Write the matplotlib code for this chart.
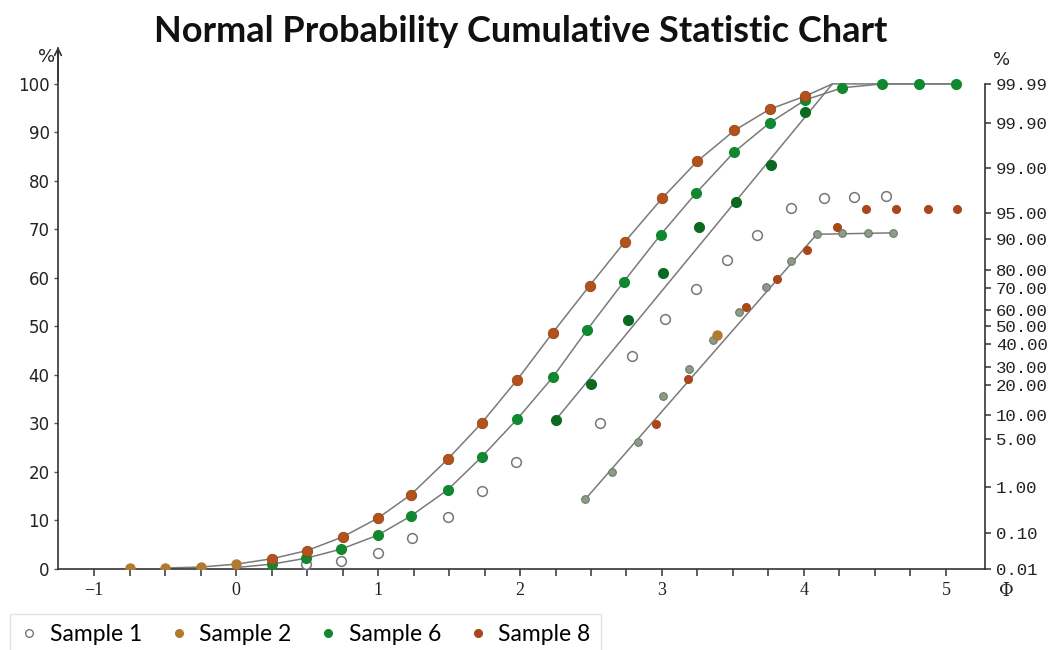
import matplotlib
matplotlib.use("Agg")
from matplotlib import pyplot as plt

# ---- data ----
# Sample 1 (open circles)
s1_x = [0.49, 0.74, 1.0, 1.24, 1.49, 1.73, 1.97, 2.56, 2.79, 3.02, 3.24, 3.46, 3.67, 3.91, 4.14, 4.35, 4.58]
s1_y = [1.0, 1.6, 3.4, 6.4, 10.8, 16.1, 22.1, 30.2, 43.9, 51.5, 57.8, 63.8, 68.9, 74.4, 76.4, 76.6, 76.8]

# Sample 2 (tan)
s2_x = [-0.75, -0.5, -0.25, 0.0, 3.385]
s2_y = [0.2, 0.3, 0.4, 1.0, 48.3]

# Sample 6 (green) - upper curve and the steeper set
s6_x = [0.25, 0.49, 0.74, 1.0, 1.23, 1.49, 1.73, 1.98, 2.23, 2.47, 2.73, 2.99, 3.24, 3.51, 3.76, 4.01, 4.27, 4.55, 4.81, 5.07]
s6_y = [1.0, 2.2, 4.1, 7.0, 10.9, 16.3, 23.1, 30.9, 39.5, 49.2, 59.2, 68.9, 77.5, 86.0, 92.0, 96.7, 99.2, 100, 100, 100]
s6b_x = [2.25, 2.5, 2.76, 3.01, 3.26, 3.52, 3.77, 4.01]
s6b_y = [30.7, 38.1, 51.3, 61.1, 70.4, 75.7, 83.3, 94.2]

# Sample 8 (red-brown) - top curve and the scattered lower points
s8_x = [0.25, 0.5, 0.75, 1.0, 1.23, 1.49, 1.73, 1.98, 2.23, 2.49, 2.74, 3.0, 3.25, 3.51, 3.76, 4.01]
s8_y = [2.1, 3.8, 6.6, 10.5, 15.3, 22.6, 30.1, 39.0, 48.7, 58.4, 67.5, 76.4, 84.1, 90.4, 94.8, 97.5]
s8b_x = [2.96, 3.18, 3.59, 3.81, 4.02, 4.23, 4.44, 4.65, 4.87, 5.08]
s8b_y = [29.8, 39.2, 54.0, 59.7, 65.8, 70.4, 74.3, 74.3, 74.3, 74.3]

# grey points on the lowest straight line
grey_x = [2.46, 2.65, 2.83, 3.01, 3.19, 3.36, 3.54, 3.73, 3.91, 4.09, 4.27, 4.45, 4.63]
grey_y = [14.4, 20.0, 26.2, 35.7, 41.3, 47.3, 52.9, 58.1, 63.5, 69.0, 69.3, 69.3, 69.3]

# fitted lines
top_line_x = [-0.5, -0.25, 0.0] + s8_x + [4.2]
top_line_y = [0.2, 0.4, 1.0] + s8_y + [100]
mid_line_x = [0.0] + s6_x
mid_line_y = [0.3] + s6_y
steep_line_x = [2.25, 4.2, 5.07]
steep_line_y = [30.7, 100, 100]
low_line_x = [2.46, 4.09, 4.63]
low_line_y = [14.4, 69.0, 69.3]

# right axis: probability scale
prob_pos = [100, 92.0, 82.7, 73.4, 68.0, 61.7, 58.0, 53.4, 50.1, 46.4, 41.6, 37.9, 31.8, 26.8, 16.9, 7.4, 0]
prob_labels = ["99.99", "99.90", "99.00", "95.00", "90.00", "80.00", "70.00", "60.00", "50.00",
               "40.00", "30.00", "20.00", "10.00", "5.00", "1.00", "0.10", "0.01"]

x_major = [-1, 0, 1, 2, 3, 4, 5]
x_minor = [i * 0.25 for i in range(-4, 21)]
y_ticks = [0, 10, 20, 30, 40, 50, 60, 70, 80, 90, 100]

c_s8 = "#b3521c"
c_s2 = "#b07a30"
c_s6 = "#11882f"
c_s6b = "#0b6a22"
c_grey = "#8e9b88"
c_line = "#7a7a7a"

fig = plt.figure(figsize=(10.62, 6.5), dpi=100)
ax = fig.add_axes([0.0546, 0.1246, 0.8729, 0.8023])

for lx, ly in [(top_line_x, top_line_y), (mid_line_x, mid_line_y),
               (steep_line_x, steep_line_y), (low_line_x, low_line_y)]:
    ax.plot(lx, ly, color=c_line, lw=1.1, zorder=2)

ax.plot(s1_x, s1_y, "o", ms=7, mfc="white", mec="#777777", mew=1.1, zorder=3)
ax.plot(grey_x, grey_y, "o", ms=5.5, mfc=c_grey, mec="#6d7a69", mew=0.8, zorder=3)
ax.plot(s8b_x, s8b_y, "o", ms=5.5, mfc="#a9461a", mec="#a9461a", zorder=3)
ax.plot(s6b_x, s6b_y, "o", ms=7, mfc=c_s6b, mec=c_s6b, zorder=3)
ax.plot(s6_x, s6_y, "o", ms=7, mfc=c_s6, mec=c_s6, zorder=4)
ax.plot(s8_x, s8_y, "o", ms=7.5, mfc=c_s8, mec="#9a4416", mew=0.6, zorder=4)
ax.plot(s2_x, s2_y, "o", ms=6.5, mfc=c_s2, mec=c_s2, zorder=4)

ax.set_xlim(-1.254, 5.275)
ax.set_ylim(0, 107.5)
ax.spines["top"].set_visible(False)
ax.spines["right"].set_visible(False)
ax.spines["left"].set_linewidth(1.2)
ax.spines["bottom"].set_linewidth(1.2)
ax.spines["left"].set_color("#333333")
ax.spines["bottom"].set_color("#333333")

ax.set_xticks(x_major)
ax.set_xticklabels(["\u22121", "0", "1", "2", "3", "4", "5"], family="Liberation Serif", fontsize=13)
ax.set_xticks(x_minor, minor=True)
ax.tick_params(axis="x", which="major", length=5, width=1.1, pad=4, colors="#333333", labelcolor="#222222")
ax.tick_params(axis="x", which="minor", length=5, width=1.1, colors="#333333")
ax.set_yticks(y_ticks)
ax.set_yticklabels([str(v) for v in y_ticks], family="DejaVu Sans", fontsize=12, color="#222222")
ax.tick_params(axis="y", length=3, width=1, pad=3, colors="#555555", labelcolor="#222222")

ax.annotate("", xy=(-1.254, 108.2), xytext=(-1.254, 100), xycoords="data",
            arrowprops=dict(arrowstyle="->", lw=1.2, color="#333333", mutation_scale=12),
            annotation_clip=False)

ax2 = ax.twinx()
ax2.set_ylim(0, 107.5)
ax2.set_yticks(prob_pos)
ax2.set_yticklabels(prob_labels, family="Liberation Mono", fontsize=12.5, color="#222222")
ax2.tick_params(axis="y", length=4, width=1.1, pad=4, colors="#333333", labelcolor="#222222")
for s in ["top", "left", "bottom"]:
    ax2.spines[s].set_visible(False)
ax2.spines["right"].set_bounds(0, 100)
ax2.spines["right"].set_linewidth(1.2)
ax2.spines["right"].set_color("#333333")

fig.text(0.044, 0.912, "%", fontsize=13, ha="center", va="center", color="#222222")
fig.text(0.943, 0.908, "%", fontsize=13, ha="center", va="center", color="#222222", family="DejaVu Sans")
fig.text(0.948, 0.091, "\u03a6", fontsize=13, ha="center", va="center", color="#222222", family="DejaVu Serif")

fig.text(0.49, 0.952, "Normal Probability Cumulative Statistic Chart", fontsize=26,
         fontweight="bold", family="Lato", ha="center", va="center", color="#111111")

handles = [
    plt.Line2D([], [], ls="", marker="o", ms=5.5, mfc="white", mec="#777777"),
    plt.Line2D([], [], ls="", marker="o", ms=5.5, mfc=c_s2, mec=c_s2),
    plt.Line2D([], [], ls="", marker="o", ms=5.5, mfc=c_s6, mec=c_s6),
    plt.Line2D([], [], ls="", marker="o", ms=5.5, mfc="#a9461a", mec="#a9461a"),
]
leg = fig.legend(handles, ["Sample 1", "Sample 2", "Sample 6", "Sample 8"], ncol=4,
                 loc="upper left", bbox_to_anchor=(0.009, 0.056), borderaxespad=0, frameon=True,
                 fancybox=False, edgecolor="#dddddd", prop={"family": "Lato", "size": 16.5},
                 handletextpad=0.5, columnspacing=1.2, handlelength=0.8, borderpad=0.45)
leg.get_frame().set_linewidth(1.0)

fig.savefig("out.png", dpi=100)
